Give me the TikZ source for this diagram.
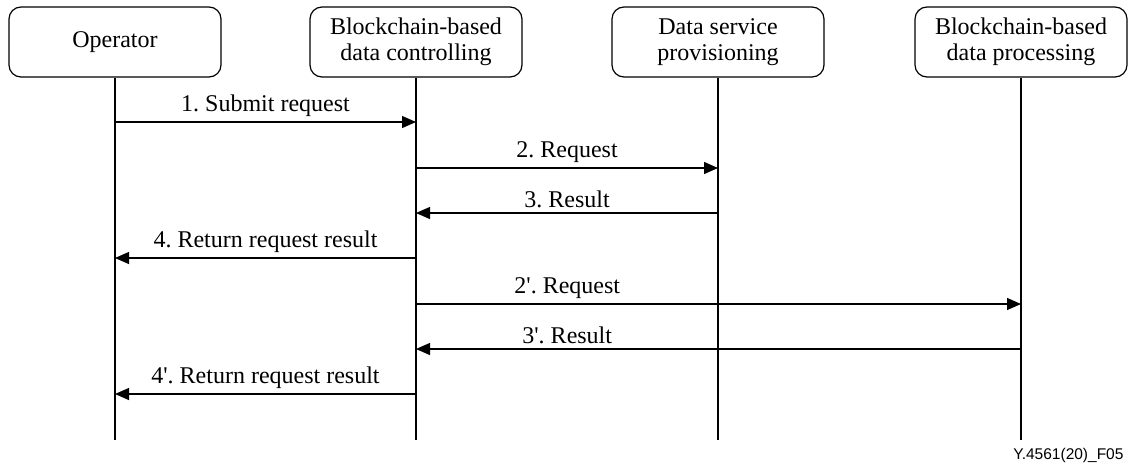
\documentclass[tikz,border=0pt]{standalone}
\usepackage{fontspec}
\setmainfont{Liberation Serif}
\newfontfamily\figsans{Liberation Sans}
\usetikzlibrary{arrows.meta}
\frenchspacing

\begin{document}
\begin{tikzpicture}[x=1pt,y=-1pt,
    entity/.style={draw,line width=1.2pt,rounded corners=12pt,
      minimum width=212pt,minimum height=70pt,align=center,
      font=\fontsize{24}{26}\selectfont},
    life/.style={line width=1.2pt},
    msg/.style={line width=1.2pt,-{Triangle[length=14pt,width=12pt]}},
    msglabel/.style={above=1pt,font=\fontsize{24}{26}\selectfont}]
  \useasboundingbox (0,0) rectangle (1129,466);

  \node [entity] (op) at (115,42) {Operator};
  \node [entity] (ctrl) at (416,42) {Blockchain-based\\data controlling};
  \node [entity] (prov) at (718,42) {Data service\\provisioning};
  \node [entity] (proc) at (1021,42) {Blockchain-based\\data processing};

  % lifelines
  \coordinate (opEnd) at (op.south |- 0,440);
  \coordinate (ctrlEnd) at (ctrl.south |- 0,440);
  \coordinate (provEnd) at (prov.south |- 0,440);
  \coordinate (procEnd) at (proc.south |- 0,440);
  \draw[life] (op.south) -- (opEnd);
  \draw[life] (ctrl.south) -- (ctrlEnd);
  \draw[life] (prov.south) -- (provEnd);
  \draw[life] (proc.south) -- (procEnd);

  % messages
  \draw[msg] (op |- 0,122) -- node[msglabel] {1. Submit request} (ctrl |- 0,122);
  \draw[msg] (ctrl |- 0,168) -- node[msglabel] {2. Request} (prov |- 0,168);
  \draw[msg] (prov |- 0,213) -- node[msglabel] {3. Result} (ctrl |- 0,213);
  \draw[msg] (ctrl |- 0,258) -- node[msglabel] {4. Return request result} (op |- 0,258);
  \draw[msg] (ctrl |- 0,304) -- node[msglabel,pos=0.25] {2\textquotesingle. Request} (proc |- 0,304);
  \draw[msg] (proc |- 0,349) -- node[msglabel,pos=0.75] {3\textquotesingle. Result} (ctrl |- 0,349);
  \draw[msg] (ctrl |- 0,394) -- node[msglabel] {4\textquotesingle. Return request result} (op |- 0,394);

  \node [anchor=east,font=\figsans\fontsize{15.5}{17}\selectfont] (fig) at (1127,455) {Y.4561(20)\_F05};
\end{tikzpicture}
\end{document}
